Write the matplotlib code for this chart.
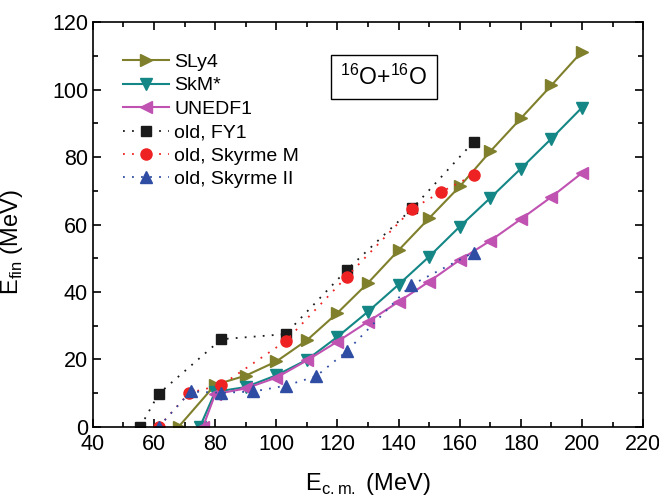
import matplotlib.pyplot as plt
from matplotlib.ticker import MultipleLocator

plt.rcParams['font.family'] = ['Liberation Sans', 'DejaVu Sans']

# new TDHF results
e_new = [68, 80, 90, 100, 110, 120, 130, 140, 150, 160, 170, 180, 190, 200]
sly4 = [0, 12.5, 15.2, 19.4, 25.7, 33.8, 42.7, 52.4, 61.9, 71.3, 81.7, 91.5, 101.3, 111.3]
e_skm = [75, 80, 90, 100, 110, 120, 130, 140, 150, 160, 170, 180, 190, 200]
skm = [0, 10.4, 11.8, 15.3, 19.9, 26.7, 34.2, 42.2, 50.5, 59.4, 67.9, 76.6, 85.5, 94.7]
e_unedf = [76, 80, 90, 100, 110, 120, 130, 140, 150, 160, 170, 180, 190, 200]
unedf1 = [0, 9.7, 11.4, 14.6, 19.7, 25.3, 31.2, 37.1, 43.1, 49.5, 55.2, 61.6, 68.2, 75.3]

# old calculations
e_fy1 = [55.5, 61.5, 82, 103, 123, 144.5, 164.5]
fy1 = [0, 9.8, 26, 27.5, 46.5, 64.8, 84.5]
e_skyrm = [61.5, 71.5, 82, 103, 123, 144.5, 154, 164.6]
skyrm = [0, 10.1, 12.4, 25.4, 44.5, 64.7, 69.7, 74.7]
e_skyr2 = [61.5, 72, 82, 92.5, 103, 113, 123, 144, 164.5]
skyr2 = [0, 10.5, 10.1, 10.5, 12.2, 15, 22.4, 42, 51.7]

fig = plt.figure(figsize=(6.59, 5.04), dpi=100)
ax = fig.add_axes([0.141, 0.153, 0.835, 0.803])

ax.plot(e_new, sly4, color='#7f7f2c', marker='>', ms=8, lw=1.5, label='SLy4')
ax.plot(e_skm, skm, color='#148686', marker='v', ms=8, lw=1.5, label='SkM*')
ax.plot(e_unedf, unedf1, color='#c052b2', marker='<', ms=8, lw=1.5, label='UNEDF1')
ax.plot(e_fy1, fy1, color='#1a1a1a', marker='s', ms=7, lw=1.3, ls=(0, (1, 4)), label='old, FY1')
ax.plot(e_skyrm, skyrm, color='#ee2222', marker='o', ms=8, lw=1.3, ls=(0, (1, 4)), label='old, Skyrme M')
ax.plot(e_skyr2, skyr2, color='#2e4da3', marker='^', ms=8, lw=1.3, ls=(0, (1, 4)), label='old, Skyrme II')

ax.set_xlim(40, 220)
ax.set_ylim(0, 120)
ax.xaxis.set_major_locator(MultipleLocator(20))
ax.xaxis.set_minor_locator(MultipleLocator(10))
ax.yaxis.set_major_locator(MultipleLocator(20))
ax.yaxis.set_minor_locator(MultipleLocator(10))
ax.tick_params(which='both', direction='in', top=True, right=True, labelsize=15.5, width=1.2)
ax.tick_params(which='major', length=6)
ax.tick_params(which='minor', length=3.5)
ax.tick_params(axis='x', pad=5)
for s in ax.spines.values():
    s.set_linewidth(1.2)

ax.set_xlabel(r'E$_{\mathregular{c.m.}}$ (MeV)', fontsize=17, labelpad=12)
ax.set_ylabel(r'E$_{\mathregular{fin}}$ (MeV)', fontsize=17)
ax.yaxis.set_label_coords(-0.124, 0.457)

ax.legend(loc='upper left', bbox_to_anchor=(0.022, 0.966), frameon=False, fontsize=14,
          handlelength=2.4, labelspacing=0.3, handletextpad=0.25)

ax.text(135.2, 103.7, r'$^{\mathregular{16}}$O+$^{\mathregular{16}}$O', fontsize=16.5,
        ha='center', va='center',
        bbox=dict(boxstyle='square,pad=0.4', fc='white', ec='black', lw=1))

fig.savefig('out.png', dpi=100)
